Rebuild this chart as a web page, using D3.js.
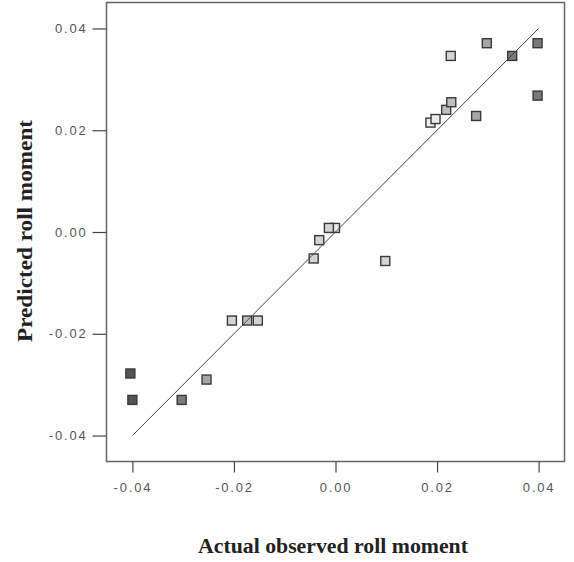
<!DOCTYPE html>
<html>
<head>
<meta charset="utf-8">
<script src="https://cdn.jsdelivr.net/npm/d3@7"></script>
<style>
  body { margin: 0; background: #fff; }
  .tick text { font-family: "Liberation Sans", Arial, sans-serif; font-size: 13px; fill: #555; letter-spacing: 1.8px; }
  .title { font-family: "Liberation Serif", "Times New Roman", serif; font-weight: bold; font-size: 20.5px; fill: #222; }
</style>
</head>
<body>
<svg id="chart" width="574" height="562"></svg>
<script>
// observed vs predicted roll moment
const observed = [-0.0404, -0.0400, -0.0303, -0.0254, -0.0204, -0.0174, -0.0153, -0.0043, -0.0032,
  -0.0001, -0.0013, 0.0098, 0.0187, 0.0197, 0.0218, 0.0228, 0.0227, 0.0277, 0.0298, 0.0348, 0.0398, 0.0398];
const predicted = [-0.0278, -0.0330, -0.0330, -0.0290, -0.0174, -0.0174, -0.0174, -0.0052, -0.0016,
  0.0008, 0.0008, -0.0057, 0.0215, 0.0222, 0.0240, 0.0255, 0.0346, 0.0228, 0.0371, 0.0346, 0.0371, 0.0268];
// shade group of each point (0 = lightest, 5 = darkest)
const group = [5, 5, 4, 3, 1, 2, 1, 1, 1, 0, 1, 1, 0, 0, 2, 2, 1, 3, 3, 4, 4, 4];

const ticks = [-0.04, -0.02, 0.00, 0.02, 0.04];
const axisLimits = [-0.0451, 0.0451];
const refLine = [-0.04, 0.04];

const xTitle = "Actual observed roll moment";
const yTitle = "Predicted roll moment";

const plotLeft = 106.5, plotRight = 564.5, plotTop = 2.5, plotBottom = 461.5;

const svg = d3.select("#chart");

let x = d3.scaleLinear().domain(axisLimits).range([plotLeft, plotRight]);
let y = d3.scaleLinear().domain(axisLimits).range([plotBottom, plotTop]);
let shade = d3.scaleOrdinal().domain([0, 1, 2, 3, 4, 5])
  .range(["#ececec", "#d4d4d4", "#bebebe", "#a6a6a6", "#7a7a7a", "#555555"]);

// frame
svg.append("rect")
  .attr("x", plotLeft).attr("y", plotTop)
  .attr("width", plotRight - plotLeft).attr("height", plotBottom - plotTop)
  .attr("fill", "none").attr("stroke", "#666").attr("stroke-width", 1.5);

// axes
let xAxis = svg.append("g")
  .attr("transform", `translate(0,${plotBottom})`)
  .call(d3.axisBottom(x).tickValues(ticks).tickFormat(d3.format(".2f")).tickSize(11).tickPadding(10));
let yAxis = svg.append("g")
  .attr("transform", `translate(${plotLeft},0)`)
  .call(d3.axisLeft(y).tickValues(ticks).tickFormat(d3.format(".2f")).tickSize(14).tickPadding(5));
[xAxis, yAxis].forEach(a => {
  a.select(".domain").remove();
  a.selectAll(".tick line").attr("stroke", "#444").attr("stroke-width", 1.2);
});
// minus sign as plain hyphen, like the original
svg.selectAll(".tick text").text(d => d3.format(".2f")(d).replace("−", "-"));

// points
const pts = observed.map((v, i) => ({ x: v, y: predicted[i], g: group[i] }));
svg.append("g").selectAll("rect")
  .data(pts)
  .join("rect")
  .attr("x", d => x(d.x) - 4.5)
  .attr("y", d => y(d.y) - 4.5)
  .attr("width", 9).attr("height", 9)
  .attr("fill", d => shade(d.g))
  .attr("stroke", "#3a3a3a").attr("stroke-width", 1.4);

// y = x reference line
svg.append("line")
  .attr("x1", x(refLine[0])).attr("y1", y(refLine[0]))
  .attr("x2", x(refLine[1])).attr("y2", y(refLine[1]))
  .attr("stroke", "#444").attr("stroke-width", 1);

// titles
svg.append("text").attr("class", "title")
  .attr("x", 333).attr("y", 553)
  .attr("text-anchor", "middle")
  .attr("textLength", 270).attr("lengthAdjust", "spacingAndGlyphs")
  .text(xTitle);
svg.append("text").attr("class", "title")
  .attr("transform", "translate(32,231) rotate(-90)")
  .attr("text-anchor", "middle")
  .attr("textLength", 222).attr("lengthAdjust", "spacingAndGlyphs")
  .text(yTitle);
</script>
</body>
</html>
